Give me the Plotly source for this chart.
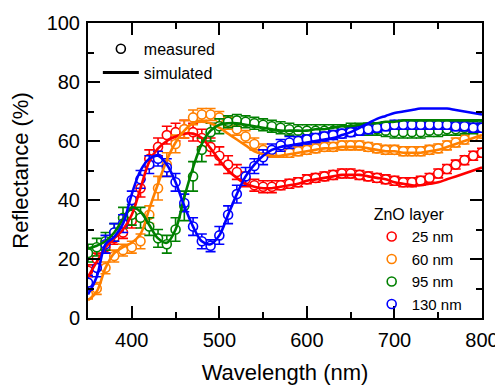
import plotly.graph_objects as go

wavelength = [350, 360, 370, 380, 390, 400, 410, 420, 430, 440, 450, 460, 470, 480, 490, 500,
              510, 520, 530, 540, 550, 560, 570, 580, 590, 600, 610, 620, 630, 640, 650, 660,
              670, 680, 690, 700, 710, 720, 730, 740, 750, 760, 770, 780, 790, 800]

# measured reflectance (%)
red_meas = [16, 20, 24, 27, 29, 33, 44, 54, 58, 62, 63, 64, 63, 61, 58, 55,
            52, 49.5, 47, 45, 44.5, 44.5, 45, 45.5, 46, 47, 47.5, 48, 48.5, 49, 49, 48.5,
            48, 47.5, 47, 46.5, 46, 46, 46.5, 47.5, 49, 50.5, 52, 53.5, 55, 56]
orange_meas = [8, 10, 17, 21, 23, 24, 26, 35, 44, 52, 59, 64, 68, 69, 69, 68,
               66, 64, 61.5, 59, 57, 56, 56, 56, 56.5, 57, 57.5, 58, 58, 58.5, 58.5, 58.5,
               58, 57.5, 57, 57, 56.5, 56.5, 56.5, 57, 57.5, 58.5, 59.5, 60.5, 61.5, 62.5]
green_meas = [22, 24, 26, 29, 34, 35, 34, 31, 27, 25, 30, 38, 48, 57, 63, 65,
              66.5, 67, 66.5, 66, 65.5, 65, 64.5, 64, 63.5, 63.5, 63.5, 63.5, 63.5, 63.5, 64, 64,
              64, 64, 63.5, 63, 63, 63, 63, 63.5, 63.5, 64, 64, 64.5, 64.5, 65]
blue_meas = [12, 17, 25, 29, 32, 40, 47, 52, 54, 51, 46, 39, 31, 26, 24.5, 28,
             35, 42, 48, 51.5, 54.5, 57, 58.5, 59.5, 60, 60.5, 61, 61.5, 62, 62.5, 63, 63.5,
             64, 64.5, 65, 65.5, 65.5, 65.5, 65.5, 65.5, 65.5, 65.5, 65, 65, 64.5, 64.5]

# measurement uncertainty (%)
red_err = [2, 2, 2, 2, 2, 2.5, 3, 3, 3, 3, 3, 3, 3, 3, 3, 3,
           3, 2.5, 2.5, 2, 2, 2, 1.5, 1.5, 1.5, 1.5, 1.5, 1.5, 1.5, 1.5, 1.5, 1.5,
           1.5, 1.5, 1.5, 1.5, 1.5, 1.5, 1.5, 1.5, 1.5, 1.5, 1.5, 1.5, 1.5, 1.5]
orange_err = [1.5, 2, 2, 2, 2, 2, 2.5, 3, 4, 4, 3, 3, 2.5, 2, 2, 2,
              2, 2, 2, 2, 2, 1.5, 1.5, 1.5, 1.5, 1.5, 1.5, 1.5, 1.5, 1.5, 1.5, 1.5,
              1.5, 1.5, 1.5, 1.5, 1.5, 1.5, 1.5, 1.5, 1.5, 1.5, 1.5, 1.5, 1.5, 1.5]
green_err = [3, 3, 3, 3, 3.5, 3.5, 3.5, 3, 3, 3, 4, 5, 5, 4, 3, 2.5,
             2, 2, 2, 2, 2, 2, 2, 2, 2, 2, 2, 2, 2, 2, 2, 2,
             2, 2, 2, 2, 2, 2, 2, 2, 2, 2, 2, 2, 2, 2]
blue_err = [2.5, 3, 3, 3, 3, 3, 3, 3, 2.5, 3, 3, 3, 3, 2.5, 2, 3,
            3, 3, 3, 2.5, 2.5, 2, 2, 2, 1.5, 1.5, 1.5, 1.5, 1.5, 1.5, 1.5, 1.5,
            1.5, 1.5, 1.5, 1.5, 1.5, 1.5, 1.5, 1.5, 1.5, 1.5, 1.5, 1.5, 1.5, 1.5]

# simulated reflectance (%)
red_sim = [14, 19, 24, 27, 30, 35, 44, 53, 57.5, 60, 61.5, 62.5, 62.5, 61, 57.5, 53.5,
           50, 47.5, 45.5, 44.5, 44, 44, 44.5, 45, 45.5, 46.5, 47, 47.5, 48, 48.5, 48.5, 48.5,
           48, 47.5, 47, 46, 45.5, 45, 45, 45.5, 46, 47, 48, 49, 50, 51]
orange_sim = [6, 9, 17, 22, 24, 25.5, 28.5, 37, 45.5, 53.5, 59.5, 63.5, 66, 66.5, 66, 64.5,
              62.5, 60.5, 58.5, 56.5, 55.5, 55, 55, 55.5, 56, 56.5, 57, 57.5, 57.5, 58, 58, 58,
              57.5, 57, 56.5, 56.5, 56, 56, 56, 56.5, 57, 58, 59, 60, 61, 62]
green_sim = [23.5, 24.5, 26, 29, 33.5, 37.5, 36, 31.5, 27, 25.5, 30, 41, 51, 59, 63.5, 65.5,
             66, 66, 65.5, 65, 64.5, 64, 63.5, 63.5, 63.5, 63.5, 64, 64, 64.5, 65, 65, 65.5,
             66, 66, 66.5, 66.5, 67, 67, 67, 67, 67, 67, 67, 67, 67, 67]
blue_sim = [8, 14, 25, 27.5, 32, 42, 50, 54, 55, 52, 46, 38, 31, 26, 25, 28,
            35, 42, 48, 52, 55, 57, 58, 58.5, 59, 59.5, 60, 60.5, 61, 62, 63, 64.5,
            66, 67.5, 68.5, 69.5, 70, 70.5, 71, 71, 71, 71, 70.5, 70, 69.5, 69]

labels = ["25 nm", "60 nm", "95 nm", "130 nm"]
colors = ["#ff0000", "#ff8000", "#008000", "#0000ff"]
meas = [red_meas, orange_meas, green_meas, blue_meas]
errs = [red_err, orange_err, green_err, blue_err]
sims = [red_sim, orange_sim, green_sim, blue_sim]

FONT = "Liberation Sans, Arial, sans-serif"
fig = go.Figure()

for m, e, c in zip(meas, errs, colors):
    fig.add_trace(go.Scatter(
        x=wavelength, y=m, mode="markers", showlegend=False,
        marker=dict(symbol="circle", size=9, color="white", line=dict(color=c, width=1.6)),
        error_y=dict(type="data", array=e, visible=True, color=c, thickness=1.6, width=5),
    ))

for s, c in zip(sims, colors):
    fig.add_trace(go.Scatter(
        x=wavelength, y=s, mode="lines", showlegend=False,
        line=dict(color=c, width=2.6, shape="spline", smoothing=1.0),
    ))

# legend 1: measured / simulated
fig.add_trace(go.Scatter(x=[None], y=[None], mode="markers", name="measured",
                         marker=dict(symbol="circle-open", size=9, color="black", line=dict(width=1.6)),
                         legend="legend"))
fig.add_trace(go.Scatter(x=[None], y=[None], mode="lines", name="simulated",
                         line=dict(color="black", width=3), legend="legend"))

# legend 2: ZnO layer thickness
for lab, c in zip(labels, colors):
    fig.add_trace(go.Scatter(x=[None], y=[None], mode="markers", name=lab,
                             marker=dict(symbol="circle-open", size=9, color=c, line=dict(width=1.6)),
                             legend="legend2"))

axis_common = dict(
    showline=True, linecolor="black", linewidth=2, mirror="ticks",
    ticks="inside", ticklen=12, tickwidth=2, tickcolor="black",
    showgrid=False, zeroline=False, automargin=False,
    tickfont=dict(family=FONT, size=20, color="black"),
)

# the page body has an 8px default margin, so the figure is drawn 8px smaller
fig.update_layout(
    width=495, height=377,
    margin=dict(l=80, r=21, t=15, b=67),
    paper_bgcolor="white", plot_bgcolor="white",
    font=dict(family=FONT, color="black"),
    xaxis=dict(range=[350, 800], dtick=100, tick0=400, ticklabelstandoff=3,
               minor=dict(dtick=50, tick0=350, ticks="inside", ticklen=6, tickwidth=2, tickcolor="black"),
               title=dict(text="Wavelength (nm)", font=dict(family=FONT, size=22), standoff=18),
               **axis_common),
    yaxis=dict(range=[0, 100], dtick=20, tick0=0, ticklabelstandoff=2,
               minor=dict(dtick=10, tick0=0, ticks="inside", ticklen=6, tickwidth=2, tickcolor="black"),
               title=dict(text="Reflectance (%)", font=dict(family=FONT, size=22), standoff=14),
               **axis_common),
    legend=dict(x=0.025, y=0.97, xanchor="left", yanchor="top",
                bgcolor="rgba(0,0,0,0)", font=dict(family=FONT, size=16),
                tracegroupgap=0, itemwidth=36),
    legend2=dict(x=0.72, y=0.402, xanchor="left", yanchor="top",
                 bgcolor="rgba(0,0,0,0)", font=dict(family=FONT, size=15),
                 title=dict(text="ZnO layer", font=dict(family=FONT, size=16)),
                 tracegroupgap=0, itemwidth=30),
)

fig.write_html("out.html")
